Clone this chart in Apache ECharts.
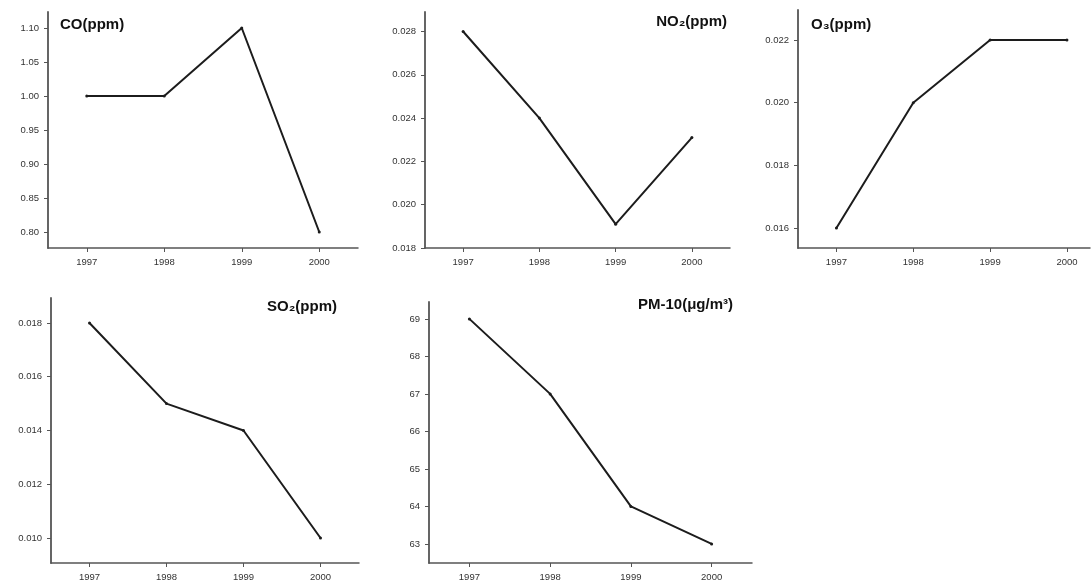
<!DOCTYPE html>
<html>
<head>
<meta charset="utf-8">
<title>Air pollutant trends 1997–2000</title>
<script src="https://cdn.jsdelivr.net/npm/echarts@6/dist/echarts.min.js"></script>
<style>
  html, body { margin: 0; padding: 0; background: #fff; }
  #chart { width: 1091px; height: 583px; }
</style>
</head>
<body>
<div id="chart"></div>
<script>
// Annual means of five pollutants, 1997–2000
const years = ['1997', '1998', '1999', '2000'];

const coValues   = [1.00, 1.00, 1.10, 0.80];
const no2Values  = [0.028, 0.024, 0.0191, 0.0231];
const o3Values   = [0.016, 0.020, 0.022, 0.022];
const so2Values  = [0.018, 0.015, 0.014, 0.010];
const pm10Values = [69, 67, 64, 63];

// Tick positions shown on each value axis
const coTicks   = [0.80, 0.85, 0.90, 0.95, 1.00, 1.05, 1.10];
const no2Ticks  = [0.018, 0.020, 0.022, 0.024, 0.026, 0.028];
const o3Ticks   = [0.016, 0.018, 0.020, 0.022];
const so2Ticks  = [0.010, 0.012, 0.014, 0.016, 0.018];
const pm10Ticks = [63, 64, 65, 66, 67, 68, 69];

const FONT = '"Liberation Sans", "DejaVu Sans", Arial, sans-serif';
const AXIS_COLOR = '#555';
const LINE_COLOR = '#1c1c1c';
const LABEL_STYLE = { fontFamily: FONT, fontSize: 9.5, color: '#333' };

// One small panel per pollutant; the O3 panel runs off the right edge,
// so its year axis is a numeric one with the last half-band cut short.
const panels = [
  { grid: { left: 48,  top: 12,  width: 310, height: 236 }, min: 0.7765,  max: 1.1235,  ticks: coTicks,   digits: 2, data: coValues },
  { grid: { left: 425, top: 12,  width: 305, height: 236 }, min: 0.018,   max: 0.0289,  ticks: no2Ticks,  digits: 3, data: no2Values },
  { grid: { left: 798, top: 10,  width: 292, height: 238 }, min: 0.01536, max: 0.02296, ticks: o3Ticks,   digits: 3, data: o3Values,
    yearRange: [1996.5, 2000.3] },
  { grid: { left: 51,  top: 298, width: 308, height: 265 }, min: 0.00907, max: 0.01893, ticks: so2Ticks,  digits: 3, data: so2Values },
  { grid: { left: 429, top: 302, width: 323, height: 261 }, min: 62.49,   max: 69.45,   ticks: pm10Ticks, digits: 0, data: pm10Values }
];

const titleStyle = {
  fontFamily: FONT, fontSize: 15, fontWeight: 'bold', color: '#111'
};

const titles = [
  { text: 'CO(ppm)',        left: 60,   top: 17 },
  { text: 'NO₂(ppm)',       right: 364, top: 14 },
  { text: 'O₃(ppm)',        left: 811,  top: 17 },
  { text: 'SO₂(ppm)',       right: 754, top: 299 },
  { text: 'PM-10(μg/m³)',   right: 358, top: 297 }
].map(t => Object.assign({ padding: 0, textStyle: titleStyle }, t));

const yearNumbers = years.map(Number);

function buildXAxis(p, i) {
  const common = {
    gridIndex: i,
    axisLine: { show: true, lineStyle: { color: AXIS_COLOR, width: 1.5 } },
    splitLine: { show: false }
  };
  if (p.yearRange) {
    return Object.assign(common, {
      type: 'value',
      min: p.yearRange[0],
      max: p.yearRange[1],
      axisTick: { show: true, length: 4, customValues: yearNumbers, lineStyle: { color: AXIS_COLOR } },
      axisLabel: Object.assign({ margin: 9, customValues: yearNumbers, formatter: v => String(v) }, LABEL_STYLE)
    });
  }
  return Object.assign(common, {
    type: 'category',
    data: years,
    boundaryGap: true,
    axisTick: { show: true, alignWithLabel: true, length: 4, lineStyle: { color: AXIS_COLOR } },
    axisLabel: Object.assign({ margin: 9 }, LABEL_STYLE)
  });
}

const option = {
  backgroundColor: '#fff',
  animation: false,
  title: titles,
  grid: panels.map(p => Object.assign({ containLabel: false }, p.grid)),
  xAxis: panels.map(buildXAxis),
  yAxis: panels.map((p, i) => ({
    type: 'value',
    gridIndex: i,
    min: p.min,
    max: p.max,
    axisLine: { show: true, lineStyle: { color: AXIS_COLOR, width: 1.8 } },
    axisTick: { show: true, length: 4, customValues: p.ticks, lineStyle: { color: AXIS_COLOR } },
    axisLabel: Object.assign({
      margin: 9,
      customValues: p.ticks,
      formatter: v => v.toFixed(p.digits)
    }, LABEL_STYLE),
    splitLine: { show: false }
  })),
  series: panels.map((p, i) => ({
    type: 'line',
    xAxisIndex: i,
    yAxisIndex: i,
    data: p.yearRange ? p.data.map((v, k) => [yearNumbers[k], v]) : p.data,
    symbol: 'circle',
    symbolSize: 3,
    itemStyle: { color: LINE_COLOR },
    lineStyle: { color: LINE_COLOR, width: 2 },
    emphasis: { disabled: true }
  }))
};

const chart = echarts.init(document.getElementById('chart'), null, { renderer: 'canvas' });
chart.setOption(option);
</script>
</body>
</html>
